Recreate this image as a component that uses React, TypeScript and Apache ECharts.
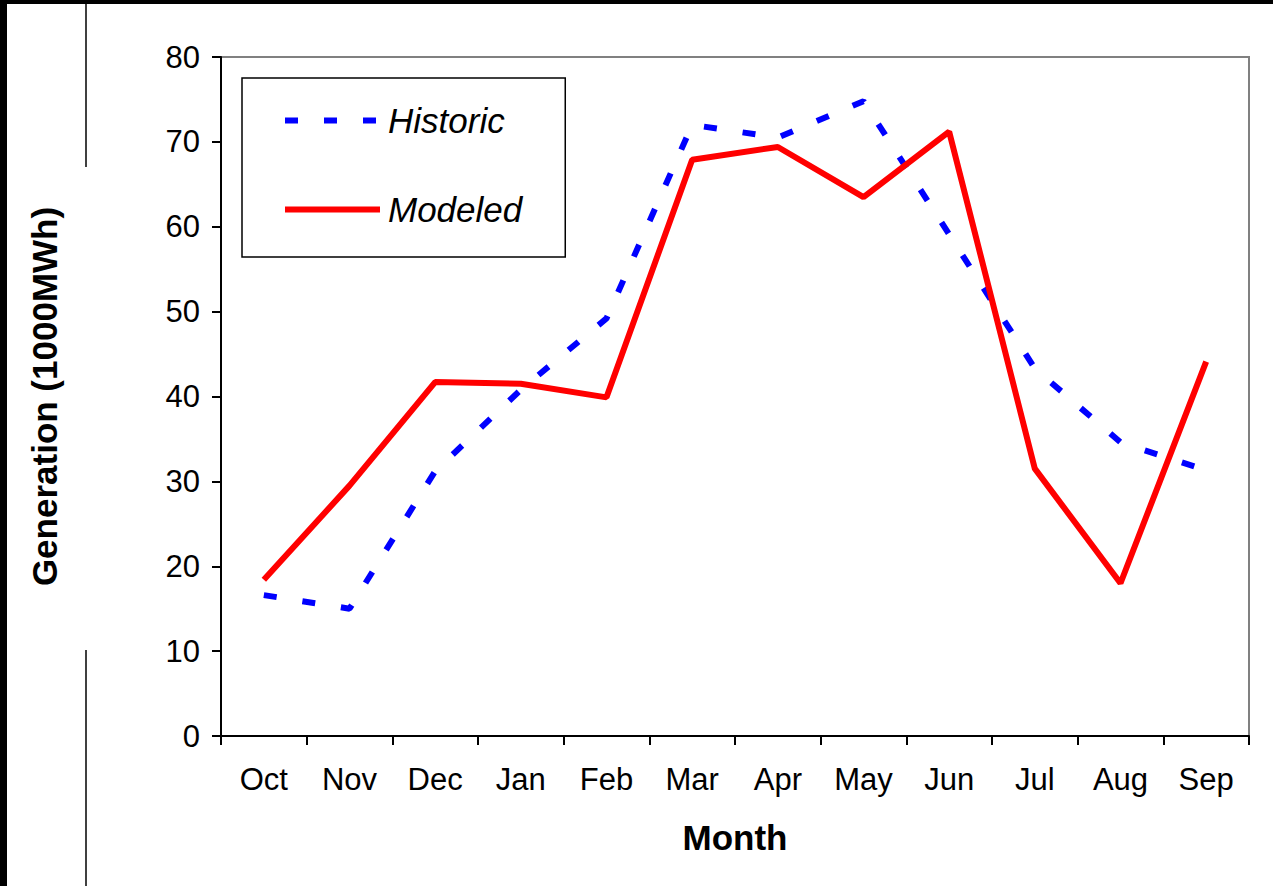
import React, { useEffect, useRef } from "react";
import * as echarts from "echarts";

const months = ["Oct", "Nov", "Dec", "Jan", "Feb", "Mar", "Apr", "May", "Jun", "Jul", "Aug", "Sep"];
const historic = [16.6, 15.0, 31.2, 40.8, 49.2, 72.0, 70.5, 74.8, 59.1, 43.3, 34.6, 31.3];
const modeled = [18.4, 29.5, 41.7, 41.5, 39.9, 67.9, 69.4, 63.5, 71.2, 31.5, 18.0, 44.1];
const yTicks = { min: 0, max: 80, interval: 10 };

const FONT = '"Liberation Sans", Arial, sans-serif';

export default function App() {
  const ref = useRef<HTMLDivElement>(null);
  useEffect(() => {
    if (!ref.current) return;
    const chart = echarts.init(ref.current, null, { renderer: "svg" });
    chart.setOption({
      animation: false,
      backgroundColor: "#ffffff",
      textStyle: { fontFamily: FONT },
      grid: {
        left: 221,
        right: 24,
        top: 57,
        bottom: 150,
        show: true,
        borderColor: "#808080",
        borderWidth: 2,
        backgroundColor: "transparent",
      },
      legend: {
        orient: "vertical",
        left: 242,
        top: 78,
        padding: [25, 43, 30, 40],
        itemWidth: 95,
        itemHeight: 40,
        itemGap: 54,
        backgroundColor: "#ffffff",
        borderColor: "#000000",
        borderWidth: 1.5,
        borderRadius: 0,
        itemStyle: { opacity: 0, color: "transparent", borderWidth: 0 },
        lineStyle: { width: 6, cap: "butt" },
        textStyle: {
          fontFamily: FONT,
          fontSize: 35,
          fontStyle: "italic",
          color: "#000",
          padding: [0, 0, 0, 3],
        },
        data: ["Historic", "Modeled"],
      },
      xAxis: {
        type: "category",
        data: months,
        boundaryGap: true,
        name: "Month",
        nameLocation: "middle",
        nameGap: 84,
        nameTextStyle: { fontFamily: FONT, fontSize: 35, fontWeight: "bold", color: "#000" },
        axisLine: { lineStyle: { color: "#000", width: 2 } },
        axisTick: { show: true, length: 9, inside: false, alignWithLabel: false, lineStyle: { color: "#000", width: 2 } },
        axisLabel: { fontFamily: FONT, fontSize: 31, color: "#000", margin: 28, interval: 0 },
        splitLine: { show: false },
      },
      yAxis: {
        type: "value",
        min: yTicks.min,
        max: yTicks.max,
        interval: yTicks.interval,
        name: "Generation (1000MWh)",
        nameLocation: "middle",
        nameRotate: 90,
        nameGap: 159,
        nameTextStyle: { fontFamily: FONT, fontSize: 35, fontWeight: "bold", color: "#000" },
        axisLine: { show: true, lineStyle: { color: "#000", width: 2 } },
        axisTick: { show: true, length: 9, inside: false, lineStyle: { color: "#000", width: 2 } },
        axisLabel: { fontFamily: FONT, fontSize: 31, color: "#000", margin: 21 },
        splitLine: { show: false },
      },
      series: [
        {
          name: "Historic",
          type: "line",
          data: historic,
          symbol: "none",
          lineStyle: { color: "#0000ff", width: 6, type: [13, 26], cap: "butt" },
          itemStyle: { color: "#0000ff" },
        },
        {
          name: "Modeled",
          type: "line",
          data: modeled,
          symbol: "none",
          lineStyle: { color: "#ff0000", width: 6, cap: "butt" },
          itemStyle: { color: "#ff0000" },
        },
      ],
      graphic: [
        { type: "rect", left: 0, top: 0, shape: { width: 7, height: 886 }, style: { fill: "#000" }, silent: true },
        { type: "rect", left: 0, top: 0, shape: { width: 1273, height: 4 }, style: { fill: "#000" }, silent: true },
        { type: "line", shape: { x1: 86, y1: 4, x2: 86, y2: 167 }, style: { stroke: "#000", lineWidth: 1.5 }, silent: true },
        { type: "line", shape: { x1: 86, y1: 650, x2: 86, y2: 886 }, style: { stroke: "#000", lineWidth: 1.5 }, silent: true },
      ],
    });
    return () => chart.dispose();
  }, []);
  return (
    <div
      ref={ref}
      style={{ position: "fixed", left: 0, top: 0, width: 1273, height: 886, background: "#fff" }}
    />
  );
}
